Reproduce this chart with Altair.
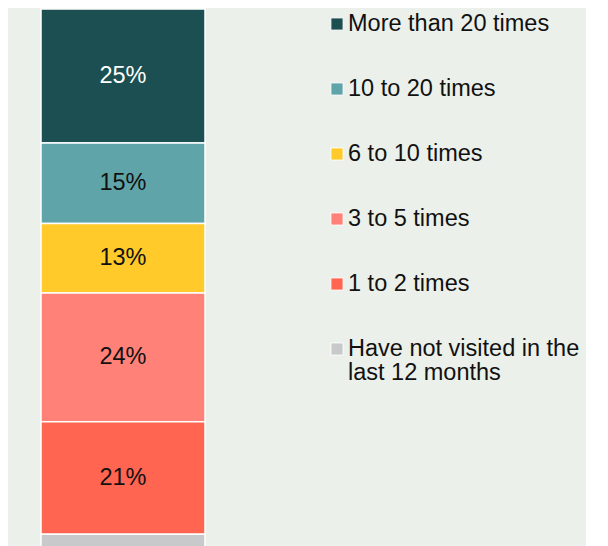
import altair as alt
import pandas as pd

categories = [
    "More than 20 times",
    "10 to 20 times",
    "6 to 10 times",
    "3 to 5 times",
    "1 to 2 times",
    "Have not visited in the last 12 months",
]
legend_labels = [
    "More than 20 times",
    "10 to 20 times",
    "6 to 10 times",
    "3 to 5 times",
    "1 to 2 times",
    "Have not visited in the\nlast 12 months",
]
shares = [25, 15, 13, 24, 21, 3]
colors = ["#1B4F51", "#5FA4A8", "#FFCA2A", "#FF8177", "#FF6550", "#C8C9CB"]

FONT = "Liberation Sans"
FS = 23.5
BG = "#EBF0EA"

df = pd.DataFrame({
    "cat": categories,
    "pct": shares,
    "idx": list(range(len(categories))),
    "label": legend_labels,
    "grp": ["all"] * len(categories),
})

yscale = alt.Scale(domain=[0, 100], reverse=True, nice=False, zero=True)
xscale = alt.Scale(paddingInner=0, paddingOuter=0)
cscale = alt.Scale(domain=categories, range=colors)

base = alt.Chart(df)

bars = base.mark_bar(stroke="white", strokeWidth=1.5).encode(
    x=alt.X("grp:N", scale=xscale, axis=None),
    y=alt.Y("pct:Q", stack="zero", scale=yscale, axis=None),
    color=alt.Color("cat:N", scale=cscale, legend=None),
    order=alt.Order("idx:Q"),
)

labels = (
    base.transform_stack(
        stack="pct", as_=["y0", "y1"], groupby=[], sort=[alt.SortField("idx")]
    )
    .transform_filter(alt.datum.cat != categories[-1])
    .transform_calculate(mid="(datum.y0 + datum.y1) / 2", txt="datum.pct + '%'")
    .mark_text(font=FONT, fontSize=FS, align="center", baseline="middle")
    .encode(
        x=alt.X("grp:N", scale=xscale, axis=None),
        y=alt.Y("mid:Q", scale=yscale, axis=None),
        text=alt.Text("txt:N"),
        color=alt.condition(
            alt.datum.cat == categories[0], alt.value("#FFFFFF"), alt.value("#111111")
        ),
    )
)

bar_chart = alt.layer(bars, labels).properties(width=164, height=536)

lscale = alt.Scale(type="point", range=[15, 340], padding=0)

sym = base.mark_square(size=150, opacity=1, stroke="white", strokeWidth=1).encode(
    x=alt.value(31),
    y=alt.Y("cat:N", sort=categories, scale=lscale, axis=None),
    color=alt.Color("cat:N", scale=cscale, legend=None),
)
txt = base.mark_text(
    font=FONT, fontSize=FS, align="left", baseline="alphabetic",
    dy=6.5, lineBreak="\n", lineHeight=24, color="#111111",
).encode(
    x=alt.value(42),
    y=alt.Y("cat:N", sort=categories, scale=lscale, axis=None),
    text=alt.Text("label:N"),
)
legend_chart = alt.layer(sym, txt).properties(width=280, height=536)

chart = (
    alt.hconcat(bar_chart, legend_chart, spacing=100)
    .properties(padding={"left": 32, "top": 0, "right": 0, "bottom": 10})
    .configure(background=BG)
    .configure_view(stroke=None)
)

chart.save("out.html", embed_options={"renderer": "svg", "actions": False})
